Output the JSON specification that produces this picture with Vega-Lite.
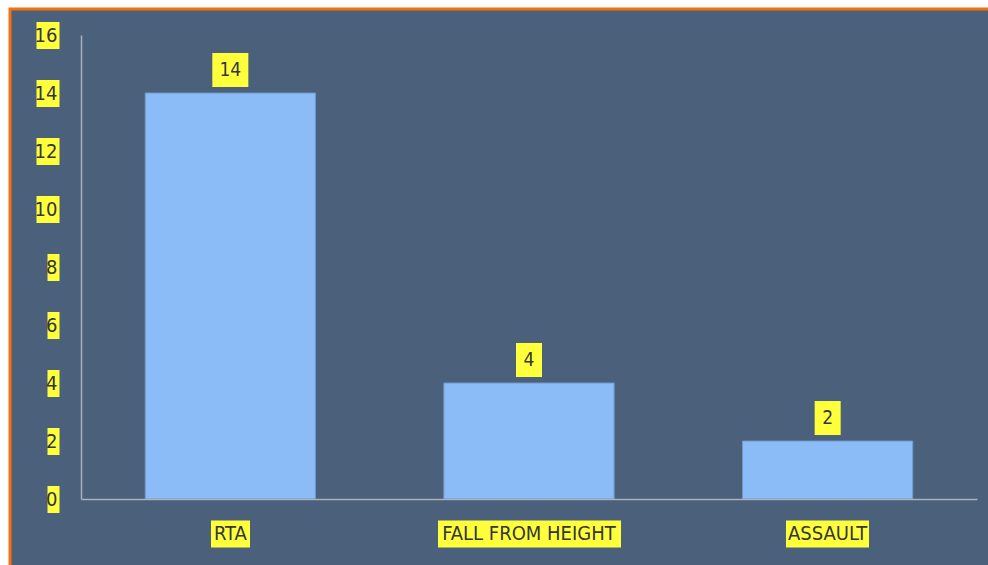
{
  "$schema": "https://vega.github.io/schema/vega-lite/v6.json",
  "width": 982,
  "height": 562,
  "autosize": {"type": "none"},
  "padding": {"left": 10, "top": 9, "right": 0, "bottom": 0},
  "background": "white",
  "config": {
    "view": {"fill": "#4b607a", "stroke": "#f5700f", "strokeWidth": 3},
    "font": "DejaVu Sans Condensed"
  },
  "data": {
    "values": [
      {"cause": "RTA", "count": 14},
      {"cause": "FALL FROM HEIGHT", "count": 4},
      {"cause": "ASSAULT", "count": 2}
    ]
  },
  "layer": [
    {
      "mark": {"type": "bar", "color": "#8cbcf8", "stroke": "#6f97c8", "strokeWidth": 1},
      "encoding": {
        "x": {
          "field": "cause", "type": "nominal", "sort": null,
          "scale": {"range": [71, 967], "paddingInner": 0.43, "paddingOuter": 0.215},
          "axis": {"orient": "bottom", "offset": -72, "domainColor": "#a9b1bd", "domainWidth": 1.5, "ticks": false, "labels": false, "grid": false, "title": null, "zindex": 1}
        },
        "y": {
          "field": "count", "type": "quantitative",
          "scale": {"domain": [0, 16], "range": [490, 26], "nice": false},
          "axis": {"orient": "left", "offset": -71, "domainColor": "#a9b1bd", "domainWidth": 1.5, "ticks": false, "labels": false, "grid": false, "title": null, "zindex": 1}
        }
      }
    },
    {
      "mark": {"type": "point", "shape": "M-1,0H1", "filled": false, "stroke": "#ffff3c", "strokeWidth": 34, "strokeCap": "butt", "opacity": 1, "yOffset": -23},
      "encoding": {
        "x": {"field": "cause", "type": "nominal", "sort": null, "axis": null},
        "y": {"field": "count", "type": "quantitative", "axis": null},
        "size": {"condition": {"test": "datum.count >= 10", "value": 1296}, "value": 676}
      }
    },
    {
      "mark": {"type": "text", "color": "#353535", "fontSize": 19, "baseline": "middle", "align": "center", "yOffset": -23},
      "encoding": {
        "x": {
          "field": "cause", "type": "nominal", "sort": null,
          "axis": {
            "orient": "bottom", "offset": -51, "domain": false, "grid": false, "title": null, "zindex": 1,
            "tickColor": "#ffff3c", "tickSize": 27, "tickCap": "butt",
            "tickWidth": {"condition": [{"test": "datum.value == 'RTA'", "value": 39}, {"test": "datum.value == 'ASSAULT'", "value": 83}], "value": 183},
            "labelPadding": -13.5, "labelBaseline": "middle", "labelAngle": 0, "labelLimit": 0,
            "labelColor": "#353535", "labelFont": "DejaVu Sans Condensed", "labelFontSize": 20
          }
        },
        "y": {
          "field": "count", "type": "quantitative",
          "axis": {
            "orient": "left", "offset": -49, "domain": false, "grid": false, "title": null, "zindex": 1,
            "values": [0, 2, 4, 6, 8, 10, 12, 14, 16],
            "tickColor": "#ffff3c", "tickWidth": 27, "tickCap": "butt",
            "tickSize": {"condition": {"test": "datum.value >= 10", "value": 23}, "value": 12},
            "labelPadding": {"condition": {"test": "datum.value >= 10", "value": -21}, "value": -10},
            "labelAlign": "right", "labelBaseline": "middle",
            "labelColor": "#353535", "labelFont": "DejaVu Sans Condensed", "labelFontSize": 20
          }
        },
        "text": {"field": "count", "type": "quantitative"}
      }
    }
  ],
  "resolve": {"axis": {"x": "independent", "y": "independent"}}
}
